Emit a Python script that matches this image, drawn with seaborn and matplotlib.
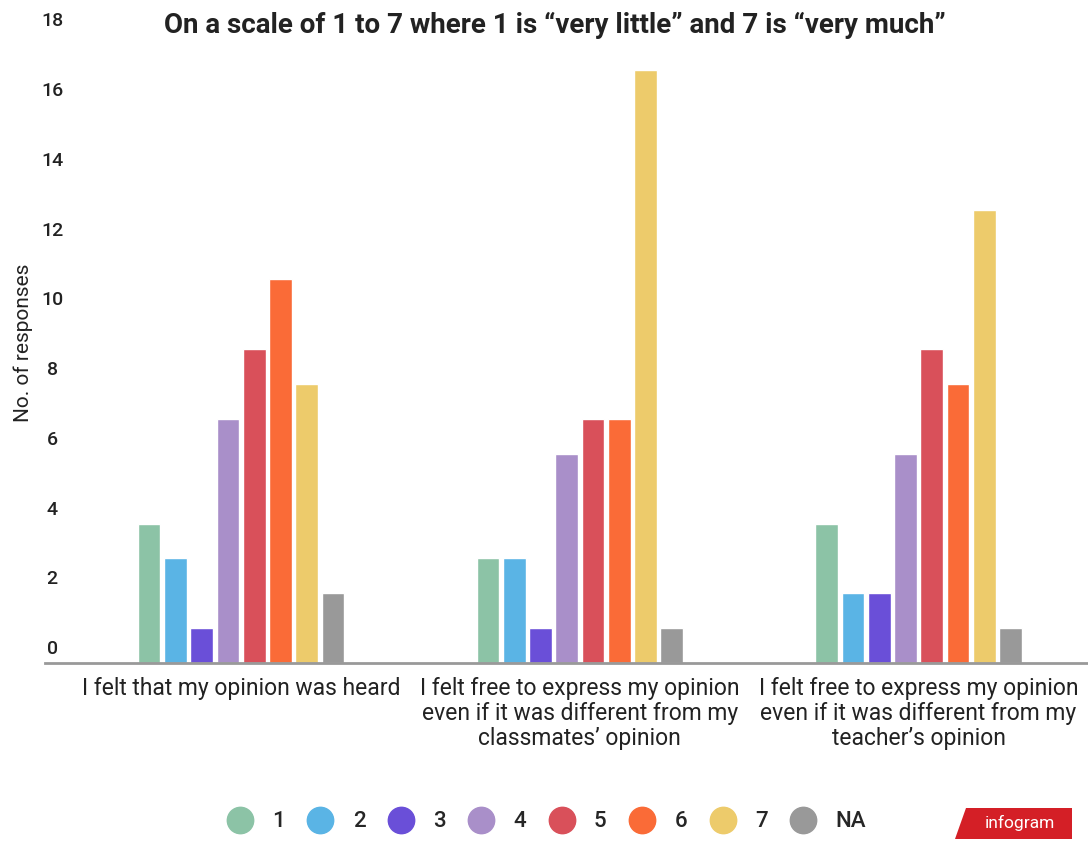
import matplotlib
matplotlib.use("Agg")
import matplotlib.pyplot as plt
import matplotlib.transforms as mtransforms
from matplotlib.lines import Line2D
from matplotlib.patches import Polygon
import seaborn as sns
import pandas as pd

# ---- data ----
questions = [
    "I felt that my opinion was heard",
    "I felt free to express my opinion\neven if it was different from my\nclassmates\u2019 opinion",
    "I felt free to express my opinion\neven if it was different from my\nteacher\u2019s opinion",
]
ratings = ["1", "2", "3", "4", "5", "6", "7", "NA"]
q1_counts = [4, 3, 1, 7, 9, 11, 8, 2]
q2_counts = [3, 3, 1, 6, 7, 7, 17, 1]
q3_counts = [4, 2, 2, 6, 9, 8, 13, 1]
colors = ["#8CC3A6", "#5AB4E5", "#6A4FD8", "#A98FC9", "#D9505A", "#FA6B37", "#EDCB6B", "#999999"]
title = "On a scale of 1 to 7 where 1 is \u201cvery little\u201d and 7 is \u201cvery much\u201d"
y_ticks = [0, 2, 4, 6, 8, 10, 12, 14, 16, 18]

rows = []
for q, counts in zip(questions, [q1_counts, q2_counts, q3_counts]):
    for r, c in zip(ratings, counts):
        rows.append({"question": q, "rating": r, "count": c})
df = pd.DataFrame(rows)

sns.set_style("white")
plt.rcParams["font.family"] = ["Roboto", "DejaVu Sans"]

fig = plt.figure(figsize=(10.88, 8.43), dpi=100)
ax = fig.add_axes([0.041, 0.2135, 0.959, 0.7445])

sns.barplot(data=df, x="question", y="count", hue="rating", order=questions,
            hue_order=ratings, palette=colors, width=0.62, gap=0.14,
            saturation=1, legend=False, ax=ax)

ax.set_xlim(-0.58, 2.5)
ax.set_ylim(0, 18)
ax.set_yticks(y_ticks)
ax.set_yticklabels([])
ax.tick_params(axis="y", length=0)
# tick labels sit above their (invisible) grid positions
ylab_trans = mtransforms.blended_transform_factory(fig.transFigure, ax.transData) + \
    mtransforms.ScaledTranslation(0.0, 0.14, fig.dpi_scale_trans)
for t in y_ticks:
    fig.text(0.048, t, str(t), transform=ylab_trans, ha="center", va="center",
             fontsize=14, color="#222222", fontweight="medium")

ax.tick_params(axis="x", length=0, pad=10, labelsize=16.5, labelcolor="#222222")
for lab in ax.get_xticklabels():
    lab.set_linespacing(1.12)

ax.set_xlabel("")
ax.set_ylabel("No. of responses", fontsize=15, color="#222222")
ax.yaxis.set_label_coords(-0.011, 0.51)

for s in ["top", "right", "left"]:
    ax.spines[s].set_visible(False)
ax.spines["bottom"].set_color("#999999")
ax.spines["bottom"].set_linewidth(2)
ax.grid(False)

fig.text(0.51, 0.97, title, ha="center", va="center", fontsize=20,
         fontweight="bold", color="#222222")

handles = [Line2D([0], [0], marker="o", linestyle="", markersize=19,
                  markerfacecolor=c, markeredgecolor=c) for c in colors]
fig.legend(handles, ratings, loc="center", bbox_to_anchor=(0.502, 0.025),
           ncol=len(ratings), frameon=False, handletextpad=0.85,
           columnspacing=1.0, handlelength=1.2,
           prop={"size": 16, "weight": "medium"})

# infogram badge
badge = Polygon([[0.878, 0.005], [0.985, 0.005], [0.985, 0.042], [0.888, 0.042]],
                closed=True, transform=fig.transFigure, facecolor="#D41F26",
                edgecolor="none")
fig.patches.append(badge)
fig.text(0.937, 0.024, "infogram", ha="center", va="center", fontsize=12.5,
         color="white")

fig.savefig("out.png", dpi=100)
